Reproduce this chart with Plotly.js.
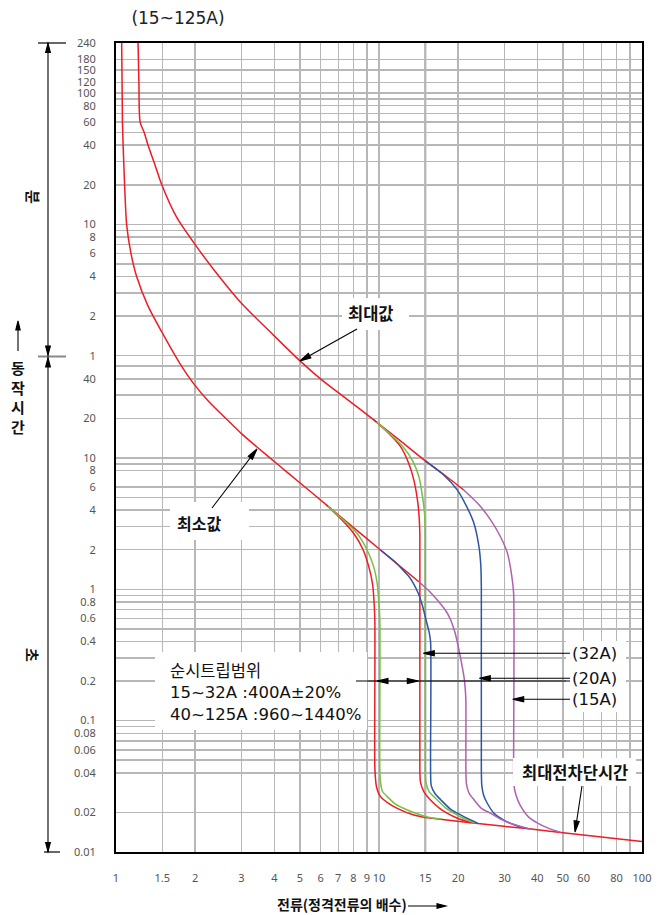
<!DOCTYPE html>
<html><head><meta charset="utf-8">
<script src="https://cdn.plot.ly/plotly-3.0.1.min.js"></script>
<style>html,body{margin:0;padding:0;background:#fff}#chart{width:661px;height:915px}</style>
</head><body><div id="chart"></div>
<script>
// ---------- data ----------
const xGrid   = [1,1.5,2,3,4,5,6,7,8,9,10,15,20,30,40,50,60,70,80,90,100];
const xLabels = ['1','1.5','2','3','4','5','6','7','8','9','10','15','20','30','40','50','60','','80','','100'];

const yGridSec   = [0.01,0.02,0.04,0.05,0.06,0.07,0.08,0.09,0.1,0.2,0.3,0.4,0.5,0.6,0.7,0.8,0.9,1,2,3,4,5,6,8,9,10,20,30,40,50];
const yLabelSec  = ['0.01','0.02','0.04','','0.06','','0.08','','0.1','0.2','','0.4','','0.6','','0.8','','1','2','','4','','6','8','','10','20','','40',''];
const yGridMin   = [1,2,3,4,5,6,7,8,9,10,20,30,40,50,60,70,80,90,100,120,150,180,240];
const yLabelMin  = ['1','2','','4','','6','','8','','10','20','','40','','60','','80','','100','120','150','180','240'];

// 최대값 (upper limit) curve, seconds
const maxX = [1.213,1.222,1.235,1.28,1.324,1.40,1.493,1.70,2.0,2.4,2.968,3.97,5.02,5.99,7.5,9.55,12.0,15.0,18.0,21.0];
const maxY = [14400,7200,3600,3000,2400,1750,1200,680,420,258,154,86,54.5,40,28.3,19.5,13.6,9.5,7.25,5.7];
// 최소값 (lower limit) curve
const minX = [1.051,1.058,1.066,1.08,1.098,1.14,1.199,1.32,1.493,1.753,1.97,2.247,2.641,3.0,3.436,4.095,5.0,6.54,8.0,10.13,12.0,14.18];
const minY = [14400,3600,2200,1100,591,360,239,145,91,52,36.9,27.0,19.6,15.3,12.1,9.02,6.47,4.13,2.95,1.99,1.5,1.14];
// 최대전차단시간 line
const breakX = [15.0,22.3,37.2,49.1,100];
const breakY = [0.0183,0.0167,0.0150,0.0141,0.0120];

// instantaneous trip branches – upper group
const redHiX   = [9.55,10.8,12.08,13.0,13.57,14.0,14.18,14.3,14.3,14.38,14.8,15.7,17.0,18.2,20.0,22.3];
const redHiY   = [19.5,15.6,12.2,9.0,6.78,4.8,3.78,2.6,0.042,0.034,0.0288,0.0249,0.0215,0.0197,0.0180,0.0167];
const greenHiX = [9.8,11.0,12.4,13.5,14.18,14.65,14.9,15.0,15.0,15.08,15.5,16.66,18.0,19.3,21.0,23.3];
const greenHiY = [18.8,15.2,12.0,9.3,7.18,5.0,3.78,2.6,0.042,0.034,0.0288,0.0249,0.0215,0.0197,0.0180,0.0166];
const blueHiX  = [15.0,17.5,19.86,21.5,22.97,24.0,24.4,24.5,24.5,24.6,25.0,25.8,27.5,29.8,33.0,37.2];
const blueHiY  = [9.5,7.5,5.69,4.3,3.17,2.1,1.48,1.0,0.042,0.032,0.027,0.0235,0.0195,0.0175,0.0160,0.0150];
const magHiX   = [21.0,24.0,26.6,29.0,30.8,32.0,32.5,32.5,32.6,33.2,34.4,37.0,40.1,44.0,49.1];
const magHiY   = [5.7,4.4,3.36,2.5,1.876,1.25,0.93,0.042,0.032,0.027,0.0227,0.0185,0.0166,0.0152,0.0141];
// lower group
const redLoX   = [6.3,7.2,8.02,8.7,9.15,9.45,9.55,9.64,9.64,9.7,9.78,10.13,10.8,11.73,13.57,15.0];
const redLoY   = [4.4,3.4,2.66,2.0,1.48,1.1,0.877,0.6,0.045,0.036,0.0314,0.0264,0.0237,0.0215,0.0191,0.0183];
const greenLoX = [6.4,7.4,8.26,9.0,9.55,9.85,9.95,10.07,10.07,10.13,10.3,10.75,11.6,12.8,15.3,17.2];
const greenLoY = [4.27,3.3,2.66,2.0,1.48,1.1,0.877,0.6,0.042,0.034,0.029,0.0264,0.023,0.0209,0.0185,0.0178];
const blueLoX  = [10.13,11.5,12.29,12.95,13.53,14.14,14.64,15.1,15.51,15.71,15.71,15.8,16.3,17.2,18.7,20.5,23.7];
const blueLoY  = [1.99,1.62,1.41,1.26,1.105,0.919,0.745,0.583,0.472,0.396,0.042,0.032,0.028,0.0249,0.0212,0.0191,0.0166];
const magLoX   = [14.18,15.5,16.66,18.0,18.73,19.5,20.14,20.7,21.04,21.3,21.4,21.4,21.5,22.0,23.0,24.5,26.6,29.0,31.7,37.2];
const magLoY   = [1.14,0.97,0.828,0.68,0.583,0.46,0.344,0.26,0.216,0.17,0.14,0.042,0.033,0.028,0.0249,0.0215,0.0197,0.0178,0.0165,0.0150];

// ---------- styling ----------
const RED='#ee1c24', GREEN='#76c043', BLUE='#2d55a5', MAG='#b060b0';
const FONT="'Noto Sans CJK KR','Noto Sans',sans-serif";
const FONT2="'DejaVu Sans','Noto Sans CJK KR',sans-serif";
const PL=116, PR=642, PT=43, PB=852;
const fx = px => (px-PL)/(PR-PL);
const fy = py => (PB-py)/(PB-PT);

function curve(x,y,color){
  return {x:x,y:y,type:'scatter',mode:'lines',hoverinfo:'skip',
    line:{color:color,width:1.5,shape:'spline',smoothing:0.7}};
}
const traces = [
  curve(maxX,maxY,RED), curve(minX,minY,RED), curve(breakX,breakY,RED),
  curve(redHiX,redHiY,RED), curve(greenHiX,greenHiY,GREEN), curve(blueHiX,blueHiY,BLUE), curve(magHiX,magHiY,MAG),
  curve(redLoX,redLoY,RED), curve(greenLoX,greenLoY,GREEN), curve(blueLoX,blueLoY,BLUE), curve(magLoX,magLoY,MAG)
];

const yTickVals = yGridSec.concat(yGridMin.map(m=>m*60));
const yTickText = yLabelSec.concat(yLabelMin);

function box(x0,y0,x1,y1){
  return {type:'rect',xref:'paper',yref:'paper',x0:fx(x0),x1:fx(x1),y0:fy(y1),y1:fy(y0),
    fillcolor:'#fff',line:{width:0},layer:'above'};
}
function seg(x0,y0,x1,y1,color,width){
  return {type:'line',xref:'paper',yref:'paper',x0:fx(x0),y0:fy(y0),x1:fx(x1),y1:fy(y1),
    line:{color:color,width:width},layer:'above'};
}
function arrow(tipX,tipY,tailX,tailY,shaft,len,half){
  len = len||11; half = half||2.6;
  const dx = tailX-tipX, dy = -(tailY-tipY);
  const L = Math.hypot(dx,dy), ux=dx/L, uy=dy/L;
  const bx=ux*len, by=uy*len, qx=-uy*half, qy=ux*half;
  const f=v=>v.toFixed(2);
  let p = '';
  if(shaft!==false) p += `M${f(dx)},${f(dy)} L0,0 `;
  p += `M0,0 L${f(bx+qx)},${f(by+qy)} L${f(bx-qx)},${f(by-qy)} Z`;
  return {type:'path',xref:'paper',yref:'paper',xsizemode:'pixel',ysizemode:'pixel',
    xanchor:fx(tipX),yanchor:fy(tipY),path:p,fillcolor:'#000',line:{color:'#000',width:1.1},layer:'above'};
}
function txt(text,cx,cy,size,bold,extra,fam){
  return Object.assign({xref:'paper',yref:'paper',x:fx(cx),y:fy(cy),text:text,showarrow:false,
    xanchor:'center',yanchor:'middle',
    font:{family:fam||FONT,size:size,color:'#111',weight:bold?700:400}},extra||{});
}

const shapes = [
  {type:'line',xref:'x',yref:'paper',x0:15,x1:15,y0:0,y1:1,line:{color:'#9d9d9d',width:2},layer:'below'},
  // white label boxes
  box(342,298,409,330), box(170,502,249,540), box(155,652,367,730),
  box(566,641,626,712), box(513,758,636,786),
  // leader arrows
  arrow(300,361,357,329), arrow(257,449,212,508), arrow(575,832,582,786),
  arrow(423.3,653.3,570,653.3), arrow(479.3,678.3,570,678.3), arrow(512.7,699.3,570,699.3),
  seg(356,681,570,681,'#000',1.2),
  arrow(377,681,390,681,false), arrow(418.3,681,405,681,false),
  // left time-axis decoration
  seg(48,43,48,852,'#000',1.1),
  seg(38,43,66,43,'#000',1.2), seg(38,356.5,66,356.5,'#888',2), seg(44,852,60,852,'#000',1.2),
  arrow(48,43.5,48,56,false,9,2.4), arrow(48,355,48,343,false,9,2.4),
  arrow(48,358,48,370,false,9,2.4), arrow(48,851.5,48,840,false,9,2.4),
  arrow(18,321,18,351,true,9,2.2),
  arrow(446,906,408,906,true,9,2.4)
];

const annotations = [
  txt('최대값',371,313,16.5,true),
  txt('최소값',199,523,16,true),
  txt('순시트립범위<br>15~32A :400A±20%<br>40~125A :960~1440%',168,693,16.5,false,{xanchor:'left',align:'left'},FONT2),
  txt('(32A)',594,653,16.5,false,null,FONT2), txt('(20A)',594,678,16.5,false,null,FONT2), txt('(15A)',594,699,16.5,false,null,FONT2),
  txt('최대전차단시간',575,772,16.5,true),
  txt('전류(정격전류의 배수)',342,904,14,true),
  txt('분',33,197,15,true,{textangle:90}),
  txt('초',33,655,15,true,{textangle:90}),
  txt('동<br>작<br>시<br>간',18,397,15,true)
];

const axisCommon = {type:'log',showgrid:true,gridcolor:'#b7b7b7',gridwidth:1.5,
  showline:true,linecolor:'#000',linewidth:2,mirror:true,ticks:'',zeroline:false,fixedrange:true,
  tickfont:{family:"'Noto Sans',sans-serif",size:11,color:'#555'},tickmode:'array',tickangle:0};

const layout = {
  width:661,height:915,margin:{l:PL,r:661-PR,t:PT,b:915-PB,pad:0},
  paper_bgcolor:'#fff',plot_bgcolor:'#fff',showlegend:false,hovermode:false,
  title:{text:'(15~125A)',x:178/661,xref:'container',xanchor:'center',y:1-18/915,yref:'container',yanchor:'middle',
    font:{family:FONT2,size:17,color:'#222'}},
  xaxis:Object.assign({},axisCommon,{range:[0,2],tickvals:xGrid,ticktext:xLabels,ticklabelstandoff:15}),
  yaxis:Object.assign({},axisCommon,{range:[-2,Math.log10(14400)],tickvals:yTickVals,ticktext:yTickText,ticklabelstandoff:16}),
  shapes:shapes,annotations:annotations
};

Plotly.newPlot('chart',traces,layout,{staticPlot:true,displayModeBar:false});
</script></body></html>
